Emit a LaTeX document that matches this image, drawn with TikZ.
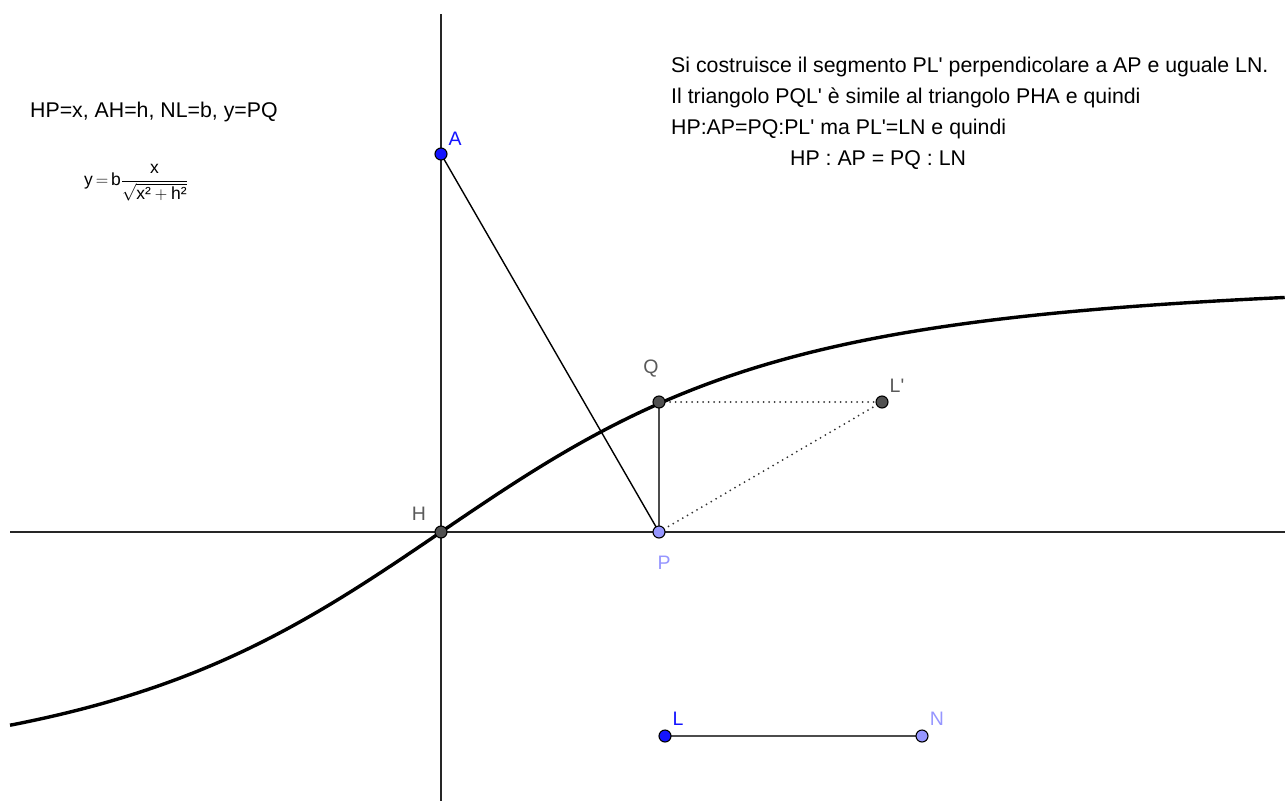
\documentclass[tikz,border=0pt]{standalone}
\usepackage{amsmath}
\usepackage{fontspec}
\setmainfont{Liberation Sans}
\newcommand\aps{\textquotesingle}
\definecolor{ptblue}{RGB}{20,20,255}
\definecolor{ptlight}{RGB}{150,150,255}
\definecolor{ptgray}{RGB}{80,80,80}
\definecolor{lblgray}{RGB}{90,90,90}
\tikzset{
  pt/.style={circle,draw=black,line width=1.1pt,inner sep=0pt,minimum size=12pt},
  lbl/.style={font=\fontsize{19.5}{21}\selectfont,inner sep=0pt},
  txt/.style={font=\fontsize{21.3}{24}\selectfont,inner sep=0pt,anchor=west},
  axis/.style={line width=1.2pt,black!85},
  seg/.style={line width=1.8pt,black!70},
  dots/.style={line width=2pt,black!80,line cap=round,dash pattern=on 0pt off 5.5pt},
}
\begin{document}
\begin{tikzpicture}[x=1pt,y=-1pt]
\useasboundingbox[fill=white] (0,0) rectangle (1285,801);
% axes
\coordinate (yt) at (441,14);
\coordinate (yb) at (441,801);
\coordinate (xl) at (10,532);
\coordinate (xr) at (1285,532);
\draw[axis] (yt) -- (yb);
\draw[axis] (xl) -- (xr);
% curve
\draw[line width=3.4pt,line join=round] plot[domain=-4.31:8.44,samples=200,smooth]
  ({441+100*\x},{532-257*\x/sqrt(\x*\x+14.2884)});
% points coordinates
\coordinate (Ac) at (441,154);
\coordinate (Hc) at (441,532);
\coordinate (Pc) at (659,532);
\coordinate (Qc) at (659,402);
\coordinate (L2c) at (882,402);
\coordinate (Lc) at (665,736);
\coordinate (Nc) at (922,736);
% segments
\draw[line width=1.4pt] (Ac) -- (Pc);
\draw[seg] (Pc) -- (Qc);
\draw[dots] (Qc) -- (L2c);
\draw[dots] (Pc) -- (L2c);
\draw[seg] (Lc) -- (Nc);
% points
\node[pt,fill=ptblue] (A) at (Ac) {};
\node[pt,fill=ptgray] (H) at (Hc) {};
\node[pt,fill=ptlight] (P) at (Pc) {};
\node[pt,fill=ptgray] (Q) at (Qc) {};
\node[pt,fill=ptgray] (L2) at (L2c) {};
\node[pt,fill=ptblue] (L) at (Lc) {};
\node[pt,fill=ptlight] (N) at (Nc) {};
% labels
\node[lbl,text=ptblue] (lA) at (455,139) {A};
\node[lbl,text=lblgray] (lH) at (419,514) {H};
\node[lbl,text=lblgray] (lQ) at (651,369) {Q};
\node[lbl,text=ptlight] (lP) at (664,563) {P};
\node[lbl,text=lblgray] (lL2) at (897,386) {L\aps};
\node[lbl,text=ptblue] (lL) at (678,719) {L};
\node[lbl,text=ptlight] (lN) at (937,719) {N};
% left text
\node[txt] (t1) at (30,112) {HP=x, AH=h, NL=b, y=PQ};
\node[txt,font=\fontsize{17.5}{19}\selectfont] (t2) at (84,183)
  {$\text{y}\,{=}\,\text{b}\dfrac{\text{x}}{\sqrt{\text{x²}+\text{h²}}}$};
% right text
\node[txt] (r1) at (671,67) {Si costruisce il segmento PL\aps{} perpendicolare a AP e uguale LN.};
\node[txt] (r2) at (671,98) {Il triangolo PQL\aps{} è simile al triangolo PHA e quindi};
\node[txt] (r3) at (671,129) {HP:AP=PQ:PL\aps{} ma PL\aps=LN e quindi};
\node[txt] (r4) at (790,160) {HP : AP = PQ : LN};
\end{tikzpicture}
\end{document}
